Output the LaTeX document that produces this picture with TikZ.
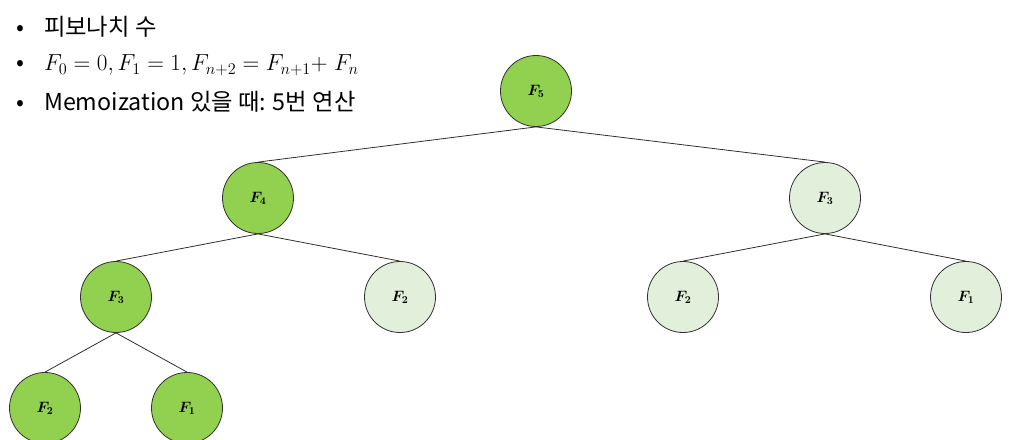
\RequirePackage{fix-cm}
\documentclass[tikz,border=0pt]{standalone}
\usepackage{fontspec}
\usepackage{bm}
\newfontfamily\krfont{Noto Sans CJK KR}
\definecolor{darkg}{HTML}{92D050}
\definecolor{lightg}{HTML}{E2EFDA}
\definecolor{edgec}{HTML}{303030}
\begin{document}
\begin{tikzpicture}[x=1pt,y=-1pt,
  fib/.style={circle,draw=edgec,line width=0.8pt,minimum size=71pt,inner sep=0pt,font=\fontsize{15}{17}\selectfont},
  done/.style={fib,fill=darkg},
  memo/.style={fib,fill=lightg},
  conn/.style={draw=edgec,line width=0.8pt},
  bul/.style={anchor=west,inner sep=0pt,font=\krfont\fontsize{23.3}{26}\selectfont}]
\useasboundingbox (0,0) rectangle (1009,439);
\node[bul] (b1) at (16,27) {•\hspace{20pt}피보나치 수};
\node[bul] (b2) at (16,65) {•\hspace{20pt}\fontsize{23.2}{26}\selectfont$F_0=0,F_1=1,F_{n+2}=F_{n+1}{+}\;F_n$};
\node[bul] (b3) at (16,102) {•\hspace{20pt}Memoization 있을 때: 5번 연산};
\node[done] (n5) at (536,91) {$\bm{F_5}$};
\node[done] (n4) at (258,198) {$\bm{F_4}$};
\node[memo] (n3r) at (825,198) {$\bm{F_3}$};
\node[done] (n3l) at (116,297) {$\bm{F_3}$};
\node[memo] (n2m) at (400,297) {$\bm{F_2}$};
\node[memo] (n2r) at (683,297) {$\bm{F_2}$};
\node[memo] (n1r) at (966,297) {$\bm{F_1}$};
\node[done] (n2b) at (45,408) {$\bm{F_2}$};
\node[done] (n1b) at (187,408) {$\bm{F_1}$};
\draw[conn] (n5.south) -- (n4.north);
\draw[conn] (n5.south) -- (n3r.north);
\draw[conn] (n4.south) -- (n3l.north);
\draw[conn] (n4.south) -- (n2m.north);
\draw[conn] (n3r.south) -- (n2r.north);
\draw[conn] (n3r.south) -- (n1r.north);
\draw[conn] (n3l.south) -- (n2b.north);
\draw[conn] (n3l.south) -- (n1b.north);
\end{tikzpicture}
\end{document}
